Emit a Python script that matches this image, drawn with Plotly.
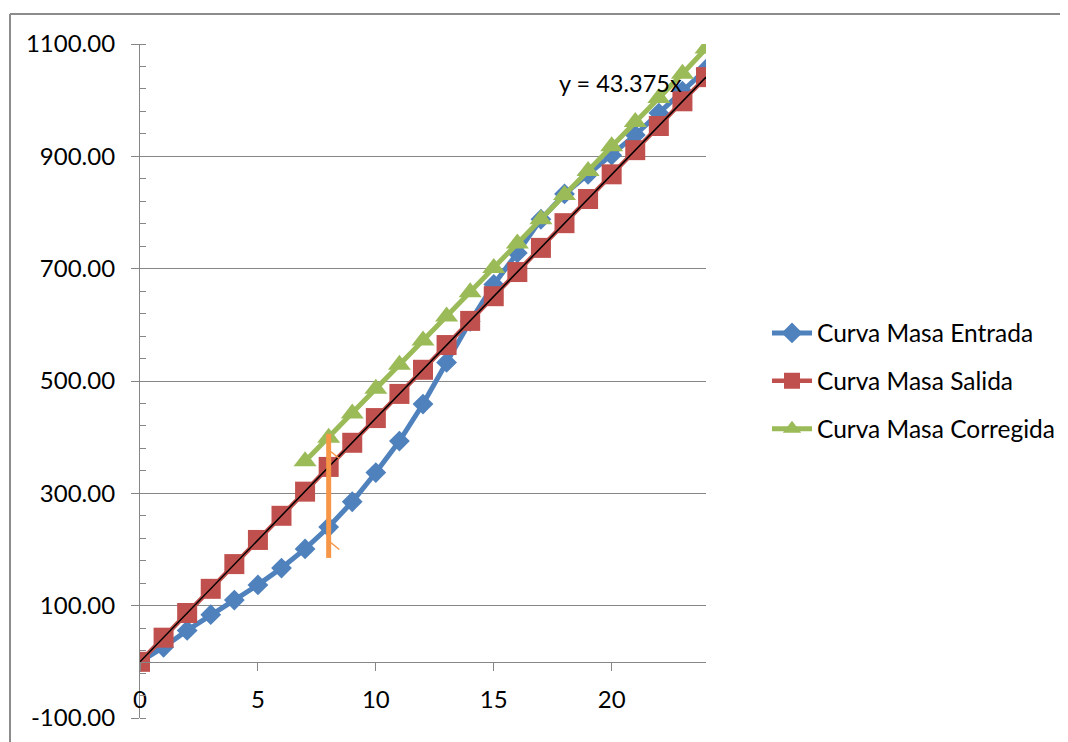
import plotly.graph_objects as go

# ---- data ----
x_vals = list(range(0, 25))
entrada = [0, 26, 56, 84, 110, 137, 167, 201, 240, 285, 337, 393, 459, 533, 606,
           672, 728, 788, 833, 868, 902, 938, 977, 1016, 1055]
salida = [0, 43, 87, 130, 174, 217, 260, 303, 347, 390, 434, 477, 520, 564, 607,
          651, 694, 737, 781, 824, 868, 911, 954, 998, 1041]
corr_x = list(range(7, 25))
corregida = [357, 399, 442, 486, 529, 572, 615, 658, 701, 745, 788, 831, 874, 918,
             961, 1004, 1047, 1092]
trend_x = [0, 24]
trend_y = [0, 1041]
trend_label = "y = 43.375x"
orange_x = [8, 8]
orange_y = [185, 406]
orange_tick_top_x = [8.1, 8.45]
orange_tick_top_y = [374, 362]
orange_tick_bot_x = [8.1, 8.45]
orange_tick_bot_y = [212, 200]
names = ["Curva Masa Entrada", "Curva Masa Salida", "Curva Masa Corregida"]
y_tickvals = [-100, 100, 300, 500, 700, 900, 1100]
y_ticktext = ["-100.00", "100.00", "300.00", "500.00", "700.00", "900.00", "1100.00"]
x_tickvals = [0, 5, 10, 15, 20]
x_ticktext = ["0", "5", "10", "15", "20"]

BLUE = "#4F81BD"
RED = "#C0504D"
GREEN = "#9BBB59"
ORANGE = "#F79646"
GRAY = "#868686"
FONT = "Lato"
FS_TICK = 24
FS_LEG = 24.5
FS_ANN = 23.5

W, H = 1068, 742
OFF = 8  # page body margin offset


def px(x):
    return (x - OFF) / W


def py(y):
    return 1 - (y - OFF) / H


fig = go.Figure()

fig.add_trace(go.Scatter(x=x_vals, y=entrada, name=names[0], mode="lines+markers",
                         line=dict(color=BLUE, width=5),
                         marker=dict(symbol="diamond", size=16, color=BLUE),
                         legendgroup="a"))
fig.add_trace(go.Scatter(x=x_vals, y=salida, name=names[1], mode="lines+markers",
                         line=dict(color=RED, width=4.5),
                         marker=dict(symbol="square", size=20, color=RED),
                         legendgroup="b"))
fig.add_trace(go.Scatter(x=corr_x, y=corregida, name=names[2], mode="lines+markers",
                         line=dict(color=GREEN, width=5),
                         marker=dict(symbol="triangle-up", size=20, color=GREEN),
                         legendgroup="c"))
fig.add_trace(go.Scatter(x=trend_x, y=trend_y, mode="lines", showlegend=False,
                         line=dict(color="black", width=1.5), hoverinfo="skip"))
fig.add_trace(go.Scatter(x=orange_x, y=orange_y, mode="lines", showlegend=False,
                         line=dict(color=ORANGE, width=5), hoverinfo="skip"))
fig.add_trace(go.Scatter(x=orange_tick_top_x, y=orange_tick_top_y, mode="lines",
                         showlegend=False, line=dict(color=ORANGE, width=1.5),
                         hoverinfo="skip"))
fig.add_trace(go.Scatter(x=orange_tick_bot_x, y=orange_tick_bot_y, mode="lines",
                         showlegend=False, line=dict(color=ORANGE, width=1.5),
                         hoverinfo="skip"))

# plot area in (screen) pixels
px_l, px_r, px_t, px_b = 140, 706, 44, 718
y_lo, y_hi = -100, 1100
dom_x = [px(px_l), px(px_r)]
dom_y = [py(px_b), py(px_t)]
zero_pos = dom_y[0] + (0 - y_lo) / (y_hi - y_lo) * (dom_y[1] - dom_y[0])

fig.update_layout(
    width=W, height=H,
    margin=dict(l=0, r=0, t=0, b=0),
    paper_bgcolor="white", plot_bgcolor="white",
    font=dict(family=FONT, size=FS_TICK, color="black"),
    showlegend=True,
    legend=dict(x=px(767), y=py(381), xanchor="left", yanchor="middle",
                font=dict(family=FONT, size=FS_LEG, color="black"),
                tracegroupgap=13, traceorder="grouped",
                bgcolor="rgba(0,0,0,0)", itemwidth=40),
    xaxis=dict(domain=dom_x, range=[0, 24], anchor="free", position=zero_pos,
               tickmode="array", tickvals=x_tickvals, ticktext=x_ticktext,
               showgrid=False, zeroline=False,
               showline=True, linecolor=GRAY, linewidth=1.2,
               ticks="outside", ticklen=8, tickcolor=GRAY, tickwidth=1.2,
               ticklabelstandoff=8,
               tickfont=dict(family=FONT, size=FS_TICK, color="black"),
               automargin=False),
    yaxis=dict(domain=dom_y, range=[y_lo, y_hi], tickmode="array",
               tickvals=y_tickvals, ticktext=y_ticktext,
               showgrid=True, gridcolor=GRAY,
               gridwidth=1.2, zeroline=False, showline=True, linecolor=GRAY,
               linewidth=1.2, ticks="outside", ticklen=8, tickcolor=GRAY,
               tickwidth=1.2, ticklabelstandoff=11,
               minor=dict(ticks="inside", ticklen=6, tickmode="linear", dtick=40,
                          tick0=-100, tickcolor=GRAY, tickwidth=1.2,
                          showgrid=False),
               tickfont=dict(family=FONT, size=FS_TICK, color="black"),
               automargin=False),
    annotations=[dict(x=17.7, y=1030, xref="x", yref="y", text=trend_label,
                      showarrow=False, xanchor="left", yanchor="middle",
                      font=dict(family=FONT, size=FS_ANN, color="black"))],
    shapes=[
        dict(type="line", xref="paper", yref="paper", x0=px(10), x1=1,
             y0=py(14), y1=py(14), line=dict(color="#8C8C8C", width=2)),
        dict(type="line", xref="paper", yref="paper", x0=px(10), x1=px(10),
             y0=py(14), y1=0, line=dict(color="#8C8C8C", width=2)),
    ],
)

fig.write_html("out.html")
